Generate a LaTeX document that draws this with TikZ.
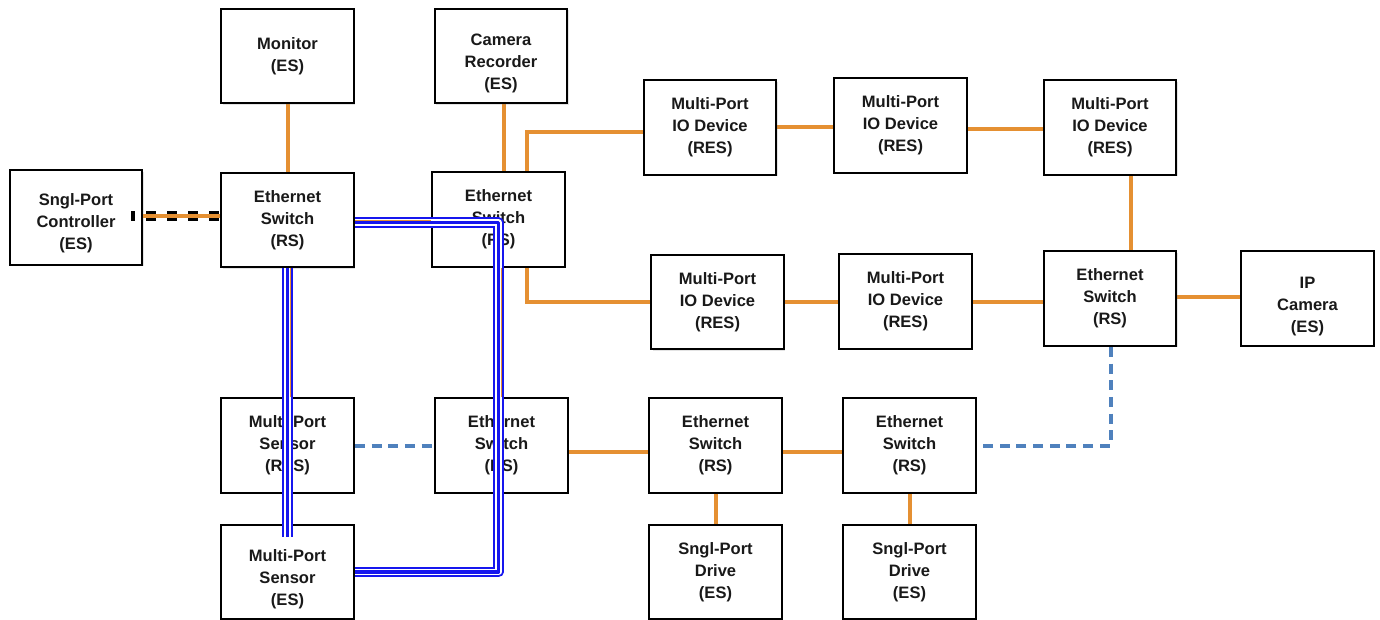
\documentclass[tikz,border=0pt]{standalone}
\usepackage{fontspec}
\setmainfont{Liberation Sans}
\usetikzlibrary{shadows,backgrounds}

\definecolor{cable}{RGB}{229,144,50}
\definecolor{ringblue}{RGB}{79,129,189}
\definecolor{pathblue}{RGB}{22,22,238}

% three-stripe highlight for the traced path
\newcommand\tracedpath[1]{%
  \draw[pathblue, line width=7.8pt, line join=round] #1;
  \draw[white, line width=5pt, line join=round] #1;
  \draw[pathblue, line width=2.7pt, line join=round] #1;
}

\begin{document}
\begin{tikzpicture}[x=0.75pt, y=-0.75pt,
  unit/.style={draw=black, line width=1.5pt, fill=white,
    minimum width=99.5pt, minimum height=71pt, inner sep=0pt,
    align=center, text=black!90,
    font=\fontsize{12.4}{16.5}\selectfont\bfseries,
    drop shadow={shadow xshift=1.2pt, shadow yshift=-1.2pt, opacity=0.22}},
  link/.style={draw=cable, line width=3pt},
  thinlink/.style={draw=cable, line width=0.6pt},
  ring/.style={draw=ringblue, line width=3pt, dash pattern=on 7.5pt off 5pt},
  serial/.style={draw=black, line width=8pt, dash pattern=on 7.5pt off 8.25pt, dash phase=4.5pt}
]
\useasboundingbox (0,0) rectangle (1380,620);

% devices
\node[unit] (mon)    at (287.5,56)   {Monitor\\(ES)};
\node[unit] (camrec) at (501,56)     {\rule{0pt}{20pt}Camera\\Recorder\\(ES)};
\node[unit] (ctrl)   at (76,217.5)   {\rule{0pt}{18pt}Sngl-Port\\Controller\\(ES)};
\node[unit] (sw1)    at (287.5,220)  {Ethernet\\Switch\\(RS)};
\node[unit] (sw2)    at (498.5,219.5){Ethernet\\Switch\\(RS)};
\node[unit] (io1)    at (710,127.5)  {Multi-Port\\IO Device\\(RES)};
\node[unit] (io2)    at (900.5,125.5){Multi-Port\\IO Device\\(RES)};
\node[unit] (io3)    at (1110,127.5) {Multi-Port\\IO Device\\(RES)};
\node[unit] (io4)    at (717.5,302)  {Multi-Port\\IO Device\\(RES)};
\node[unit] (io5)    at (905.5,301.5){Multi-Port\\IO Device\\(RES)};
\node[unit] (sw3)    at (1110,298.5) {Ethernet\\Switch\\(RS)};
\node[unit] (ipcam)  at (1307.5,298.5){\rule{0pt}{20pt}IP\\Camera\\(ES)};
\node[unit] (mpsr)   at (287.5,445.5){Multi-Port\\Sensor\\(RES)};
\node[unit] (sw4)    at (501.5,445.5){Ethernet\\Switch\\(RS)};
\node[unit] (sw5)    at (715.5,445.5){Ethernet\\Switch\\(RS)};
\node[unit] (sw6)    at (909.5,445.5){Ethernet\\Switch\\(RS)};
\node[unit] (mpse)   at (287.5,572)  {\rule{0pt}{20pt}Multi-Port\\Sensor\\(ES)};
\node[unit] (drv1)   at (715.5,572)  {Sngl-Port\\Drive\\(ES)};
\node[unit] (drv2)   at (909.5,572)  {Sngl-Port\\Drive\\(ES)};

% cabling, behind the devices
\begin{scope}[on background layer]
  \draw[link] (mon) -- (sw1);
  \draw[link] ([xshift=1.9pt]camrec.south) -- ([xshift=1.9pt]camrec.south |- sw2.north);
  \draw[link] ([xshift=21.4pt]sw2.north) |- ([yshift=-3.4pt]io1.west);
  \draw[link] (io1.east) -- (io1.east -| io2.west);
  \draw[link] ([yshift=-3pt]io2.east) -- ([yshift=-3pt]io2.east -| io3.west);
  \draw[link] ([xshift=15.75pt]io3.south) -- ([xshift=15.75pt]io3.south |- sw3.north);
  \draw[link] ([xshift=21.4pt]sw2.south) |- (io4.west);
  \draw[link] (io4.east) -- (io4.east -| io5.west);
  \draw[link] (io5.east) -- (io5.east -| sw3.west);
  \draw[link] ([yshift=1.1pt]sw3.east) -- ([yshift=1.1pt]sw3.east -| ipcam.west);
  \draw[link] ([yshift=-4.9pt]sw4.east) -- ([yshift=-4.9pt]sw4.east -| sw5.west);
  \draw[link] ([yshift=-4.9pt]sw5.east) -- ([yshift=-4.9pt]sw5.east -| sw6.west);
  \draw[link] (sw5) -- (drv1);
  \draw[link] (sw6) -- (drv2);
  \draw[link] (sw1.east) -- (sw1.east -| sw2.west);
  \draw[link] ([xshift=2.6pt]sw1.south) -- ([xshift=2.6pt]sw1.south |- mpsr.north);
  \draw[link] ([xshift=1.9pt]sw2.south) -- ([xshift=1.9pt]sw2.south |- sw4.north);
  \draw[ring] (mpsr.east) -- (mpsr.east -| sw4.west);
  \draw[ring] ([xshift=0.75pt]sw3.south) |- (sw6.east);
\end{scope}

% serial link from the controller
\draw[serial] ([xshift=-9pt,yshift=1.1pt]ctrl.east) -- ([yshift=1.1pt]ctrl.east -| sw1.west);
\draw[link] ([yshift=1.1pt]ctrl.east) -- ([yshift=1.1pt]ctrl.east -| sw1.west);

% traced paths
\tracedpath{([yshift=-1.9pt]sw1.east) -- ([yshift=-1.9pt]sw1.east -| sw2) |- (mpse.east)}
\tracedpath{(sw1.south) -- ([yshift=-10pt]mpse.north)}

% cables showing through the traced paths
\draw[thinlink] (sw1.east) -- (sw1.east -| sw2.west);
\draw[thinlink] ([xshift=1.9pt]sw1.south) -- ([xshift=1.9pt]sw1.south |- mpsr.north);
\draw[thinlink] ([xshift=1.9pt]sw2.south) -- ([xshift=1.9pt]sw2.south |- sw4.north);

\end{tikzpicture}
\end{document}
